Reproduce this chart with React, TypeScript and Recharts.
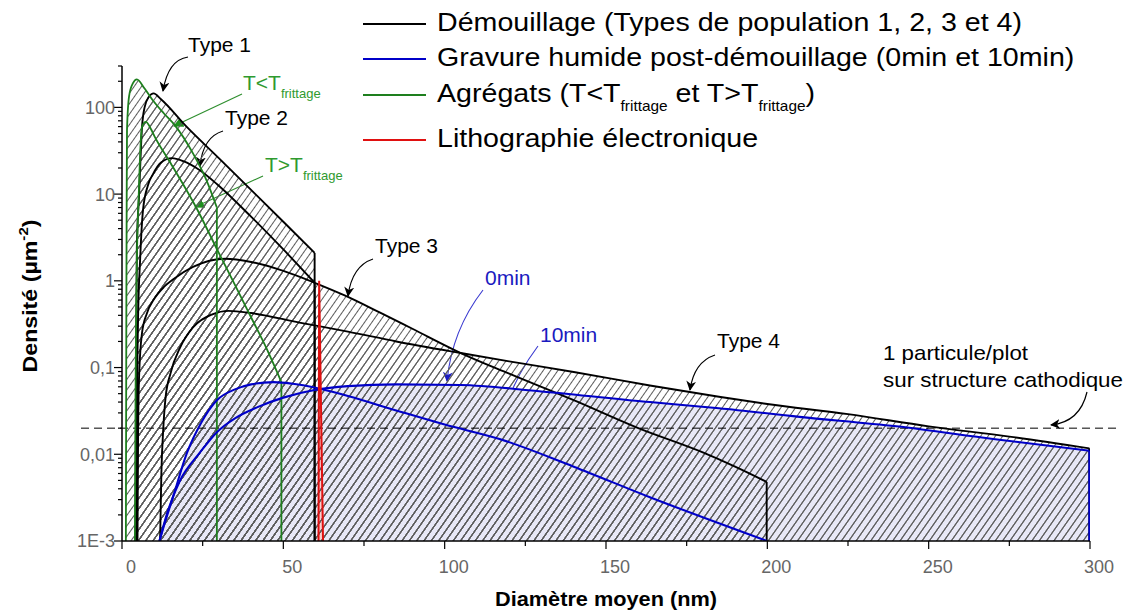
import React from 'react';
import { ComposedChart, Area, Line, XAxis, YAxis, ReferenceLine } from 'recharts';

const FONT = '"Liberation Sans", Arial, Helvetica, sans-serif';

type Pt = { x: number; y: number };
const toPts = (a: number[][]): Pt[] => a.map(([x, y]) => ({ x, y }));

const Y_FLOOR = 0.001;

// ---- Démouillage (black) ----
const type1 = toPts([
  [4.2, 0.001], [4.35, 0.05], [4.5, 0.6], [4.6, 2.4], [5.3, 10], [6.2, 59], [7, 100], [8.3, 132],
  [9.8, 145], [12, 125], [20, 60], [30, 26], [40, 11.2], [50, 4.8], [59.7, 2.1],
]);
const type2 = toPts([
  [4.5, 0.001], [4.7, 0.05], [5.0, 0.4], [5.6, 1.7], [6.5, 6.5], [8, 12.5], [9.6, 17], [12, 23],
  [15.5, 26], [19, 24], [24, 19], [30, 12.5], [40, 5.5], [50, 2.3], [59.7, 0.95],
]);
const type3 = toPts([
  [4.8, 0.001], [5.0, 0.02], [5.3, 0.08], [6.2, 0.25], [7.7, 0.42], [10, 0.62], [13, 0.85], [16, 1.05],
  [22, 1.45], [32, 1.8], [40, 1.65], [50, 1.3], [59.7, 0.95], [69, 0.68], [80, 0.43], [90, 0.28],
  [105, 0.147], [120, 0.085], [140, 0.042], [160, 0.02], [180, 0.0105], [190, 0.0072], [199.8, 0.0048],
]);
const type4 = toPts([
  [11.8, 0.001], [12.2, 0.006], [12.8, 0.02], [13.5, 0.045], [15, 0.085], [18, 0.17], [22, 0.29],
  [28, 0.41], [33, 0.45], [40, 0.425], [55, 0.33], [70, 0.26], [85, 0.2], [105, 0.147], [120, 0.118],
  [140, 0.089], [163.6, 0.062], [185, 0.046], [200, 0.038], [225, 0.029], [250, 0.021], [275, 0.016],
  [299.8, 0.0117],
]);

// ---- Gravure humide (blue) ----
const wet0min = toPts([
  [11.6, 0.001], [14, 0.0021], [18, 0.005], [24, 0.0103], [29.4, 0.018], [35, 0.026], [42, 0.035],
  [50, 0.045], [59.7, 0.055], [70, 0.061], [85, 0.064], [105, 0.063], [130, 0.053], [163.6, 0.04],
  [185, 0.034], [210, 0.027], [240, 0.021], [270, 0.015], [299.8, 0.011],
]);
const wet10min = toPts([
  [11.6, 0.001], [13, 0.0015], [15.8, 0.0032], [20.1, 0.0103], [24.5, 0.023], [29.4, 0.042],
  [35, 0.056], [40, 0.064], [47, 0.068], [53, 0.065], [59.7, 0.059], [70, 0.047], [85, 0.032],
  [100, 0.022], [117, 0.015], [140, 0.0072], [163.6, 0.0032], [185, 0.0016], [199.9, 0.001],
]);

// ---- Agrégats (green) ----
const aggBelow = toPts([
  [1.2, 0.001], [1.35, 0.5], [1.45, 8], [1.55, 55], [2.2, 135], [3.4, 190], [4.6, 210], [7, 165],
  [9.6, 120], [13, 85], [16.4, 62], [22, 29.5], [26, 15], [29.4, 7],
]);
const aggAbove = toPts([
  [4.0, 0.001], [4.2, 0.05], [4.4, 0.5], [4.6, 1.7], [5.2, 10], [5.8, 40], [6.2, 60], [7.4, 68],
  [9, 56], [10, 47], [15, 23], [23, 7], [30, 2.1], [35, 0.9], [40, 0.38], [45, 0.16], [49.4, 0.068],
]);

// ---- Lithographie électronique (red) ----
const litho = toPts([[60.9, 0.001], [61.1, 1.0], [62.3, 0.001]]);

// ---- ticks ----
const xMajorTicks = [0, 50, 100, 150, 200, 250, 300];
const xMajorLabels = ['0', '50', '100', '150', '200', '250', '300'];
const xMinorTicks = [25, 75, 125, 175, 225, 275];
const yMajorTicks = [0.001, 0.01, 0.1, 1, 10, 100];
const yMajorLabels = ['1E-3', '0,01', '0,1', '1', '10', '100'];
const yMinorTicks: number[] = [];
for (let e = -3; e <= 2; e++) {
  for (let m = 2; m <= 9; m++) {
    const v = +(m * Math.pow(10, e)).toPrecision(3);
    if (v <= 300.0001) yMinorTicks.push(v);
  }
}
const yAllTicks = [...yMajorTicks, ...yMinorTicks].sort((a, b) => a - b);
const xAllTicks = [...xMajorTicks, ...xMinorTicks].sort((a, b) => a - b);

const dashedLevel = 0.02;

const legendRows = [
  { color: '#000000', y: 24 },
  { color: '#0000c8', y: 59 },
  { color: '#1e7f1e', y: 95 },
  { color: '#e01010', y: 140 },
];

const GREEN_TXT = '#2f9a2f';
const BLUE_TXT = '#1a1ac0';

// vertical closing edge of a distribution (last point down to the axis floor)
const dropOf = (d: Pt[]): Pt[] => {
  const last = d[d.length - 1];
  return [last, { x: last.x, y: Y_FLOOR }];
};

const YTick = (props: any) => {
  const { x, y, payload } = props;
  const v = payload.value;
  const i = yMajorTicks.findIndex((t) => Math.abs(t - v) / t < 1e-6);
  const major = i >= 0;
  return (
    <g>
      <line x1={x} x2={x - (major ? 8 : 4)} y1={y} y2={y} stroke="#000" strokeWidth={1.2} />
      {major && (
        <text x={x - 7} y={y} dy="0.36em" textAnchor="end" fill="#666" fontSize={18} fontFamily={FONT}>
          {yMajorLabels[i]}
        </text>
      )}
    </g>
  );
};

const XTick = (props: any) => {
  const { x, y, payload } = props;
  const v = payload.value;
  const i = xMajorTicks.indexOf(v);
  const major = i >= 0;
  return (
    <g>
      <line x1={x} x2={x} y1={y} y2={y + (major ? 8 : 5)} stroke="#000" strokeWidth={1.2} />
      {major && (
        <text x={x + 9} y={y + 32} textAnchor="middle" fill="#666" fontSize={18} fontFamily={FONT}>
          {xMajorLabels[i]}
        </text>
      )}
    </g>
  );
};

const series = (data: Pt[], stroke: string, w: number, key: string, type: any = 'monotoneX') => (
  <Line
    key={key}
    data={data}
    dataKey="y"
    type={type}
    stroke={stroke}
    strokeWidth={w}
    dot={false}
    activeDot={false}
    isAnimationActive={false}
  />
);

const curveWithDrop = (data: Pt[], stroke: string, w: number, key: string) => [
  series(data, stroke, w, key),
  series(dropOf(data), stroke, w, key + 'd', 'linear'),
];

const hatch = (data: Pt[], key: string, fill = 'url(#hatch)', type: any = 'monotoneX') => (
  <Area
    key={key}
    data={data}
    dataKey="y"
    type={type}
    stroke="none"
    fill={fill}
    fillOpacity={1}
    baseValue={Y_FLOOR}
    isAnimationActive={false}
    activeDot={false}
  />
);

export default function App() {
  return (
    <div style={{ position: 'absolute', left: 0, top: 0, width: 1125, height: 612, background: '#fff' }}>
      <ComposedChart width={1125} height={612} margin={{ top: 66, right: 35, bottom: 41, left: 62 }}>
        <defs>
          <pattern id="hatch" patternUnits="userSpaceOnUse" width="6" height="10" patternTransform="rotate(35)">
            <line x1="3" y1="-1" x2="3" y2="11" stroke="#5c5c5c" strokeWidth="1" shapeRendering="crispEdges" />
          </pattern>
          <marker id="ahK" viewBox="0 0 10 10" refX="9" refY="5" markerWidth="10" markerHeight="10" markerUnits="userSpaceOnUse" orient="auto">
            <path d="M0,0 L10,5 L0,10 L3,5 z" fill="#000" />
          </marker>
          <marker id="ahG" viewBox="0 0 10 10" refX="9" refY="5" markerWidth="10" markerHeight="10" markerUnits="userSpaceOnUse" orient="auto">
            <path d="M0,0 L10,5 L0,10 z" fill="#1e8f1e" />
          </marker>
          <marker id="ahB" viewBox="0 0 10 10" refX="9" refY="5" markerWidth="10" markerHeight="10" markerUnits="userSpaceOnUse" orient="auto">
            <path d="M0,0 L10,5 L0,10 L3,5 z" fill="#1a1ac0" />
          </marker>
        </defs>

        <XAxis
          type="number"
          dataKey="x"
          domain={[0, 300]}
          allowDataOverflow
          ticks={xAllTicks}
          interval={0}
          tick={<XTick />}
          tickLine={false}
          tickSize={0}
          tickMargin={0}
          height={30}
          axisLine={{ stroke: '#000', strokeWidth: 1.5 }}
        />
        <YAxis
          type="number"
          scale="log"
          domain={[0.001, 300]}
          allowDataOverflow
          ticks={yAllTicks}
          interval={0}
          tick={<YTick />}
          tickLine={false}
          tickSize={0}
          tickMargin={0}
          width={60}
          axisLine={{ stroke: '#000', strokeWidth: 1.5 }}
        />

        {hatch(wet0min, 'l0', '#e8e8f7')}
        {hatch(wet10min, 'l10', '#e8e8f7')}
        {hatch(litho, 'lr', '#f6d0d0', 'linear')}
        {hatch(type1, 'h1')}
        {hatch(type2, 'h2')}
        {hatch(type3, 'h3')}
        {hatch(type4, 'h4')}
        {hatch(aggBelow, 'hg1')}
        {hatch(aggAbove, 'hg2')}
        {hatch(wet0min, 'hb0')}
        {hatch(wet10min, 'hb10')}

        <ReferenceLine
          segment={[{ x: -12.7, y: dashedLevel }, { x: 309.3, y: dashedLevel }]}
          stroke="#000"
          strokeWidth={1}
          strokeDasharray="8 5"
          ifOverflow="visible"
        />

        {curveWithDrop(type1, '#000', 1.9, 's1')}
        {curveWithDrop(type2, '#000', 1.9, 's2')}
        {curveWithDrop(type3, '#000', 1.9, 's3')}
        {curveWithDrop(type4, '#000', 1.9, 's4')}
        {curveWithDrop(aggBelow, '#1e7f1e', 1.8, 'sg1')}
        {curveWithDrop(aggAbove, '#1e7f1e', 1.8, 'sg2')}
        {series(wet10min, '#0000c8', 2.1, 'sb10')}
        {curveWithDrop(wet0min, '#0000c8', 2.1, 'sb0')}
        {series(litho, '#e01010', 2, 'sr', 'linear')}

        <g fontFamily={FONT}>
          {/* legend */}
          {legendRows.map((r, i) => (
            <line key={i} x1={363} x2={426} y1={r.y} y2={r.y} stroke={r.color} strokeWidth={2} />
          ))}
          <g transform="translate(437,0) scale(1.1,1)" fontSize={26} fill="#000">
            <text x={0} y={31}>Démouillage (Types de population 1, 2, 3 et 4)</text>
            <text x={0} y={66}>Gravure humide post-démouillage (0min et 10min)</text>
            <text x={0} y={102}>
              Agrégats (T&lt;T
              <tspan fontSize={14} dy={9}>frittage</tspan>
              <tspan dy={-9}> et T&gt;T</tspan>
              <tspan fontSize={14} dy={9}>frittage</tspan>
              <tspan dy={-9}>)</tspan>
            </text>
            <text x={0} y={147}>Lithographie électronique</text>
          </g>

          {/* annotations */}
          <text x={188} y={52} fontSize={21} fill="#000">Type 1</text>
          <path d="M188,57 Q168,60 163,91" fill="none" stroke="#000" strokeWidth={1.2} markerEnd="url(#ahK)" />

          <text x={243} y={90} fontSize={21} fill={GREEN_TXT}>
            T&lt;T<tspan fontSize={13} dy={8}>frittage</tspan>
          </text>
          <path d="M242,94 L174,126" fill="none" stroke="#2f8f2f" strokeWidth={1.2} markerEnd="url(#ahG)" />

          <text x={225} y={125} fontSize={21} fill="#000">Type 2</text>
          <path d="M223,131 Q203,137 200,166" fill="none" stroke="#000" strokeWidth={1.2} markerEnd="url(#ahK)" />

          <text x={265} y={172} fontSize={21} fill={GREEN_TXT}>
            T&gt;T<tspan fontSize={13} dy={8}>frittage</tspan>
          </text>
          <path d="M263,176 L195,207" fill="none" stroke="#2f8f2f" strokeWidth={1.2} markerEnd="url(#ahG)" />

          <text x={375} y={253} fontSize={21} fill="#000">Type 3</text>
          <path d="M373,259 Q352,266 348,296" fill="none" stroke="#000" strokeWidth={1.2} markerEnd="url(#ahK)" />

          <text x={485} y={285} fontSize={21} fill={BLUE_TXT}>0min</text>
          <path d="M483,290 Q452,330 447,381" fill="none" stroke="#3a3ad0" strokeWidth={1.1} markerEnd="url(#ahB)" />

          <text x={540} y={342} fontSize={21} fill={BLUE_TXT}>10min</text>
          <path d="M538,346 Q505,390 500,436" fill="none" stroke="#3a3ad0" strokeWidth={1.1} markerEnd="url(#ahB)" />

          <text x={717} y={348} fontSize={21} fill="#000">Type 4</text>
          <path d="M715,355 Q694,362 690,390" fill="none" stroke="#000" strokeWidth={1.2} markerEnd="url(#ahK)" />

          <text x={883} y={360} fontSize={21} fill="#000" textLength={145} lengthAdjust="spacingAndGlyphs">1 particule/plot</text>
          <text x={883} y={387} fontSize={21} fill="#000" textLength={240} lengthAdjust="spacingAndGlyphs">sur structure cathodique</text>
          <path d="M1087,392 Q1080,422 1051,425" fill="none" stroke="#000" strokeWidth={1.2} markerEnd="url(#ahK)" />

          {/* axis titles */}
          <text x={606} y={606} textAnchor="middle" fontSize={20} fontWeight="bold" fill="#000" textLength={222} lengthAdjust="spacingAndGlyphs">
            Diamètre moyen (nm)
          </text>
          <g transform="translate(37,296) rotate(-90) scale(1.16,1)">
            <text x={0} y={0} textAnchor="middle" fontSize={20} fontWeight="bold" fill="#000">
              Densité (µm<tspan fontSize={13} dy={-9}>-2</tspan><tspan dy={9}>)</tspan>
            </text>
          </g>
        </g>
      </ComposedChart>
    </div>
  );
}
